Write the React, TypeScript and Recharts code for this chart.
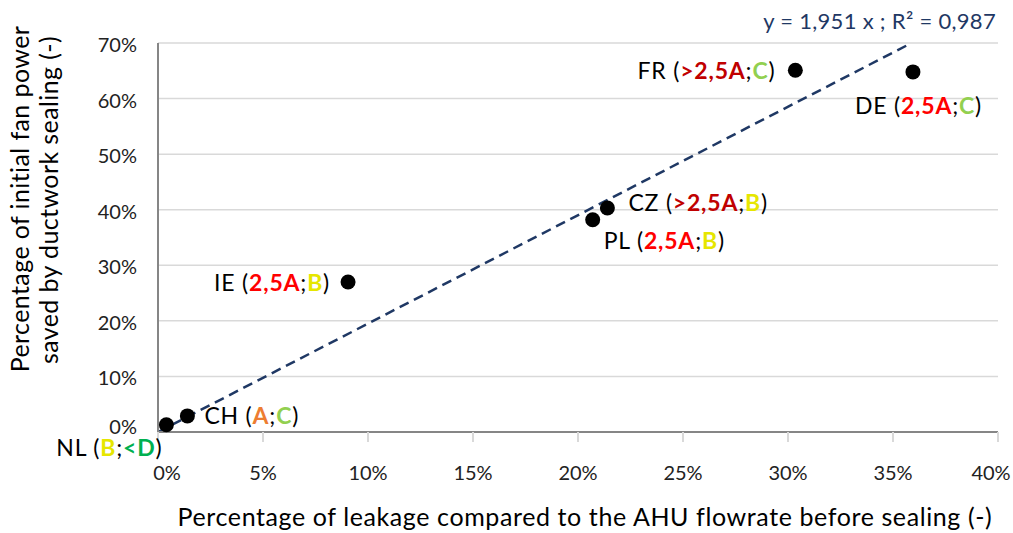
import React from 'react';
import { ScatterChart, Scatter, XAxis, YAxis, CartesianGrid, ReferenceLine } from 'recharts';

// Measured points: leakage (% of AHU flowrate) vs fan power saved (%)
const countries = ['NL', 'CH', 'IE', 'PL', 'CZ', 'FR', 'DE'];
const leakage = [0.4, 1.4, 9.05, 20.7, 21.4, 30.35, 35.95];
const savings = [1.3, 2.9, 27.0, 38.2, 40.3, 65.1, 64.8];
const ahuClass = ['B', 'A', '2,5A', '2,5A', '>2,5A', '>2,5A', '2,5A'];
const ductClass = ['<D', 'C', 'B', 'B', 'B', 'C', 'C'];

const xTicks = [0, 5, 10, 15, 20, 25, 30, 35, 40];
const yTicks = [0, 10, 20, 30, 40, 50, 60, 70];

// Trendline y = 1,951 x, drawn to the top of the axis
const trendStart = { x: 0, y: 0 };
const trendEnd = { x: 35.88, y: 70 };
const equation = 'y = 1,951 x ; R² = 0,987';

const FONT = 'Lato, "Open Sans", sans-serif';
const W = 1013;
const H = 533;

const classColors: Record<string, string> = {
  '>2,5A': '#C00000',
  '2,5A': '#FF0000',
  A: '#ED7D31',
  B: '#E6E600',
  C: '#92D050',
  '<D': '#00B050',
};

// label offsets relative to the dot, in px
const labelPlacement: Record<string, { dx: number; dy: number; anchor: 'start' | 'end' | 'middle' }> = {
  NL: { dx: -4, dy: 22, anchor: 'end' },
  CH: { dx: 17, dy: -1, anchor: 'start' },
  IE: { dx: -18, dy: 0, anchor: 'end' },
  PL: { dx: 11, dy: 20, anchor: 'start' },
  CZ: { dx: 21, dy: -6, anchor: 'start' },
  FR: { dx: -20, dy: 0, anchor: 'end' },
  DE: { dx: -58, dy: 33, anchor: 'start' },
};

const points = countries.map((c, i) => ({
  name: c,
  x: leakage[i],
  y: savings[i],
  ahu: ahuClass[i],
  duct: ductClass[i],
}));

function PointShape(props: any) {
  const { cx, cy, payload } = props;
  const p = labelPlacement[payload.name];
  return (
    <g>
      <circle cx={cx} cy={cy} r={7.5} fill="#000" />
      <text
        x={cx + p.dx}
        y={cy + p.dy}
        textAnchor={p.anchor}
        dominantBaseline="central"
        fontFamily={FONT}
        fontSize={23}
        letterSpacing={0.8}
        fill="#000"
      >
        <tspan>{payload.name} (</tspan>
        <tspan fill={classColors[payload.ahu]} fontWeight="bold">{payload.ahu}</tspan>
        <tspan>;</tspan>
        <tspan fill={classColors[payload.duct]} fontWeight="bold">{payload.duct}</tspan>
        <tspan>)</tspan>
      </text>
    </g>
  );
}

function XTick(props: any) {
  const { x, y, payload } = props;
  // first label nudged off the axis corner, last kept inside the picture
  const tx = payload.value === 0 ? x + 9 : Math.min(x, W - 22);
  return (
    <text x={tx} y={y + 28} textAnchor="middle" dominantBaseline="central" fontFamily={FONT} fontSize={20} fill="#222">
      {`${payload.value}%`}
    </text>
  );
}

function YTick(props: any) {
  const { x, y, payload } = props;
  const ty = payload.value === 0 ? y - 6 : y + 1;
  return (
    <text x={x - 13} y={ty} textAnchor="end" dominantBaseline="central" fontFamily={FONT} fontSize={20} fill="#222">
      {`${payload.value}%`}
    </text>
  );
}

function XTitle(props: any) {
  const { viewBox } = props;
  return (
    <text
      x={viewBox.x + viewBox.width / 2 + 7}
      y={viewBox.y + 94}
      textAnchor="middle"
      fontFamily={FONT}
      fontSize={25}
      letterSpacing={0.6}
      fill="#000"
    >
      Percentage of leakage compared to the AHU flowrate before sealing (-)
    </text>
  );
}

function YTitle() {
  return (
    <g fontFamily={FONT} fontSize={25} letterSpacing={0.4} fill="#000" textAnchor="middle">
      <text transform="translate(29,199) rotate(-90)">Percentage of initial fan power</text>
      <text transform="translate(58,200) rotate(-90)">saved by ductwork sealing (-)</text>
    </g>
  );
}

export default function App() {
  return (
    <div style={{ position: 'absolute', left: 0, top: 0, width: W, height: H, background: '#fff' }}>
      <ScatterChart width={W} height={H} margin={{ top: 43, right: 15, bottom: 0, left: 0 }}>
        <CartesianGrid vertical={false} stroke="#D9D9D9" strokeWidth={1.5} />
        <XAxis
          type="number"
          dataKey="x"
          domain={[0, 40]}
          ticks={xTicks}
          interval={0}
          height={101}
          stroke="#868686"
          strokeWidth={2}
          tickLine={{ stroke: '#D9D9D9', strokeWidth: 2 }}
          tickSize={10}
          tick={<XTick />}
          label={<XTitle />}
        />
        <YAxis
          type="number"
          dataKey="y"
          domain={[0, 70]}
          ticks={yTicks}
          interval={0}
          width={158}
          stroke="#868686"
          strokeWidth={2}
          tickLine={false}
          tick={<YTick />}
          label={<YTitle />}
        />
        <ReferenceLine
          segment={[trendStart, trendEnd]}
          stroke="#1F3864"
          strokeWidth={2.5}
          strokeDasharray="10 6"
          ifOverflow="visible"
        />
        <Scatter data={points} shape={<PointShape />} isAnimationActive={false} />
      </ScatterChart>
      <div
        style={{
          position: 'absolute',
          right: 17,
          top: 8,
          fontFamily: FONT,
          fontSize: 22,
          letterSpacing: 0.3,
          lineHeight: '26px',
          color: '#1F3864',
          whiteSpace: 'nowrap',
        }}
      >
        {equation}
      </div>
    </div>
  );
}
